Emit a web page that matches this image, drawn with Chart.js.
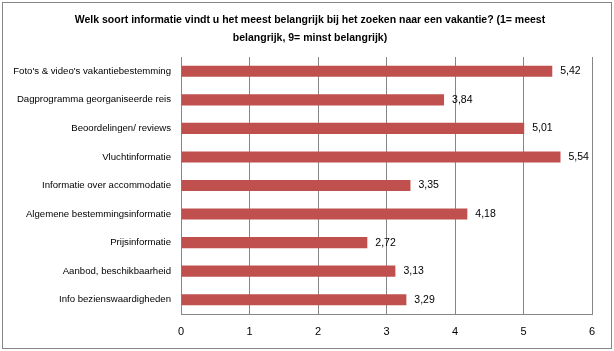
<!DOCTYPE html>
<html>
<head>
<meta charset="utf-8">
<script src="https://cdn.jsdelivr.net/npm/chart.js@4"></script>
<style>
html,body{margin:0;padding:0;background:#fff;}
#wrap{position:absolute;left:0;top:0;width:614px;height:351px;}
</style>
</head>
<body>
<div id="wrap"><canvas id="c" width="614" height="351"></canvas></div>
<script>
const categories = [
  "Foto's & video's vakantiebestemming",
  "Dagprogramma georganiseerde reis",
  "Beoordelingen/ reviews",
  "Vluchtinformatie",
  "Informatie over accommodatie",
  "Algemene bestemmingsinformatie",
  "Prijsinformatie",
  "Aanbod, beschikbaarheid",
  "Info bezienswaardigheden"
];
const scores = [5.42, 3.84, 5.01, 5.54, 3.35, 4.18, 2.72, 3.13, 3.29];
const xTicks = [0, 1, 2, 3, 4, 5, 6];
const titleLines = [
  "Welk soort informatie vindt u het meest belangrijk bij het zoeken naar een vakantie? (1= meest",
  "belangrijk, 9= minst belangrijk)"
];

const FONT = "'Liberation Sans', Arial, sans-serif";
const GRID = '#868686';

const valueLabels = {
  id: 'valueLabels',
  afterDatasetsDraw(chart) {
    const ctx = chart.ctx;
    const meta = chart.getDatasetMeta(0);
    ctx.save();
    ctx.font = "10.5px " + FONT;
    ctx.fillStyle = '#000';
    ctx.textAlign = 'left';
    ctx.textBaseline = 'middle';
    meta.data.forEach((bar, i) => {
      const v = chart.data.datasets[0].data[i];
      ctx.fillText(v.toFixed(2).replace('.', ','), bar.x + 8, bar.y);
    });
    ctx.restore();
  }
};

const outerBorder = {
  id: 'outerBorder',
  afterLayout(chart) {
    if (chart.titleBlock) {
      chart.titleBlock.left = 6;
      chart.titleBlock.right = chart.width;
    }
  },
  afterDraw(chart) {
    const ctx = chart.ctx;
    ctx.save();
    ctx.strokeStyle = GRID;
    ctx.lineWidth = 1;
    ctx.strokeRect(2.5, 2.5, chart.width - 5, chart.height - 5);
    ctx.restore();
  }
};

new Chart(document.getElementById('c'), {
  type: 'bar',
  data: {
    labels: categories,
    datasets: [{
      data: scores,
      backgroundColor: '#C0504D',
      borderWidth: 0,
      barPercentage: 0.39,
      categoryPercentage: 1.0
    }]
  },
  options: {
    indexAxis: 'y',
    responsive: false,
    animation: false,
    devicePixelRatio: 1,
    layout: { padding: { left: 0, right: 22, top: 0, bottom: 0 } },
    plugins: {
      legend: { display: false },
      tooltip: { enabled: false },
      title: {
        display: true,
        text: titleLines,
        color: '#000',
        font: { family: FONT, size: 10.5, weight: 'bold', lineHeight: '18px' },
        padding: { top: 11, bottom: 10 }
      }
    },
    scales: {
      x: {
        min: 0, max: 6,
        afterBuildTicks(scale) { scale.ticks = xTicks.map(v => ({ value: v })); },
        afterFit(scale) { scale.height = 37; },
        grid: { color: GRID, drawTicks: false, lineWidth: 1 },
        border: { display: true, color: GRID },
        ticks: { color: '#000', padding: 11, font: { family: FONT, size: 11 } }
      },
      y: {
        afterFit(scale) { scale.width = 181; },
        grid: { display: false, drawTicks: false },
        border: { display: true, color: GRID },
        ticks: { color: '#000', padding: 10, font: { family: FONT, size: 9.6 } }
      }
    }
  },
  plugins: [valueLabels, outerBorder]
});
</script>
</body>
</html>
